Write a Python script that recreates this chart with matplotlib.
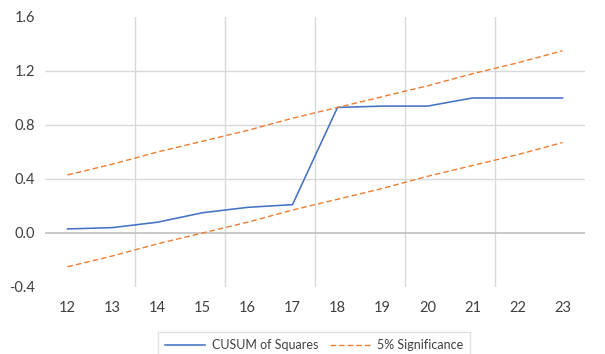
import matplotlib
matplotlib.use("Agg")
import matplotlib.pyplot as plt

periods = [12, 13, 14, 15, 16, 17, 18, 19, 20, 21, 22, 23]
cusum_sq = [0.03, 0.04, 0.08, 0.15, 0.19, 0.21, 0.93, 0.94, 0.94, 1.00, 1.00, 1.00]
upper_5 = [0.43, 0.51, 0.60, 0.68, 0.76, 0.85, 0.93, 1.01, 1.09, 1.18, 1.26, 1.35]
lower_5 = [-0.25, -0.17, -0.08, 0.00, 0.08, 0.17, 0.25, 0.33, 0.42, 0.50, 0.58, 0.67]
y_ticks = [-0.4, 0.0, 0.4, 0.8, 1.2, 1.6]

plt.rcParams['font.family'] = ['Lato', 'DejaVu Sans']

W, H = 605, 354
fig = plt.figure(figsize=(W / 100, H / 100), dpi=100)
ax = fig.add_axes([45 / W, 1 - 287 / H, 540 / W, 270 / H])

blue = '#4472C4'
orange = '#ED7D31'

l1, = ax.plot(periods, cusum_sq, color=blue, lw=1.15, label='CUSUM of Squares', zorder=3)
l2, = ax.plot(periods, upper_5, color=orange, lw=1.0, ls=(0, (4, 2.2)), label='5% Significance', zorder=3)
ax.plot(periods, lower_5, color=orange, lw=1.0, ls=(0, (4, 2.2)), zorder=3)

ax.set_xlim(11.5, 23.5)
ax.set_ylim(-0.4, 1.6)
ax.set_xticks(periods)
ax.set_xticklabels([str(p) for p in periods])
ax.set_yticks(y_ticks)
ax.set_yticklabels([f'{v:.1f}' for v in y_ticks])

for v in [0.4, 0.8, 1.2]:
    ax.axhline(v, color='#D9D9D9', lw=1.0, zorder=1)
ax.axhline(0.0, color='#BFBFBF', lw=1.2, zorder=2)
for xv in [13.5, 15.5, 17.5, 19.5, 21.5]:
    ax.axvline(xv, color='#D9D9D9', lw=1.0, zorder=1)

for s in ax.spines.values():
    s.set_visible(False)
ax.tick_params(axis='both', length=0, labelsize=10.5, colors='#404040')
ax.tick_params(axis='x', pad=10)
ax.tick_params(axis='y', pad=7)

leg = fig.legend(handles=[l1, l2], loc='lower center', bbox_to_anchor=(314 / W, -9 / H),
                 ncol=2, frameon=True, fancybox=False, fontsize=9,
                 handlelength=3.2, columnspacing=0.9, handletextpad=0.6,
                 borderpad=0.55, borderaxespad=0.4, edgecolor='#D9D9D9')
leg.get_frame().set_linewidth(1.0)
for t in leg.get_texts():
    t.set_color('#404040')

fig.savefig('out.png', dpi=100)
